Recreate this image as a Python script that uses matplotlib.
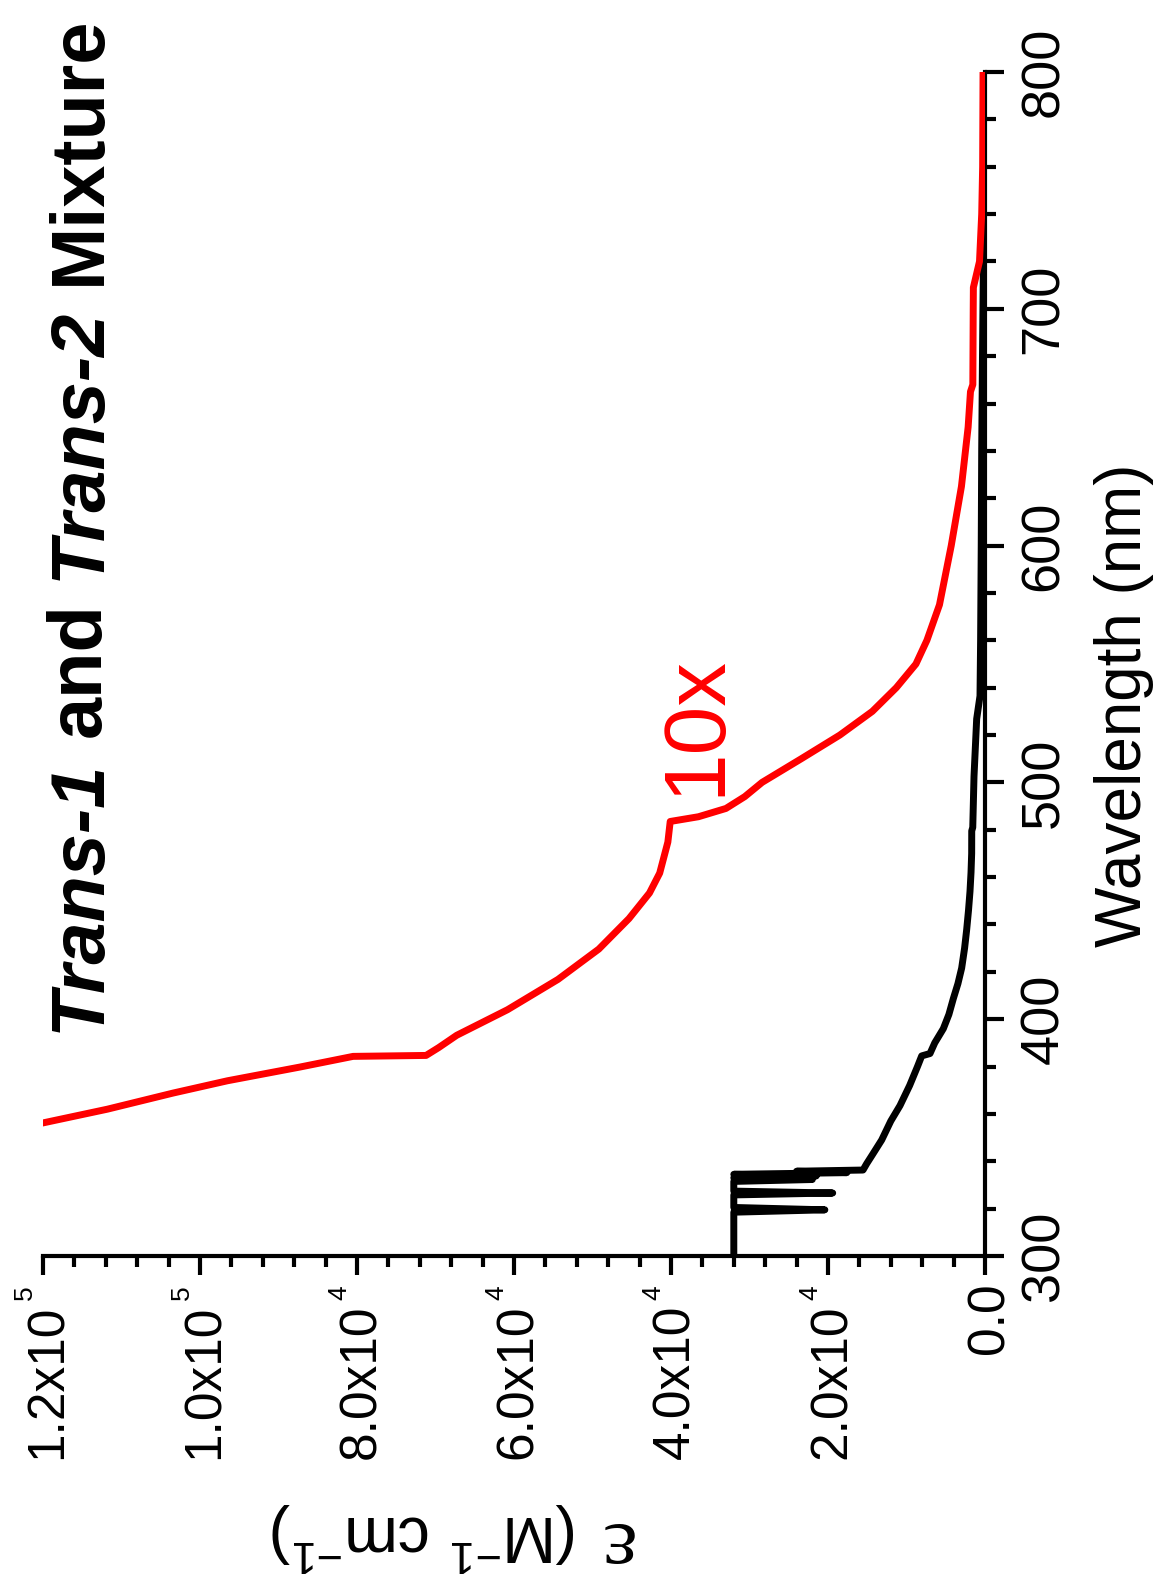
import matplotlib
matplotlib.use("Agg")
import matplotlib.pyplot as plt
import matplotlib.transforms as mtransforms
from matplotlib.ticker import FixedLocator, MultipleLocator, NullFormatter

plt.rcParams["font.family"] = ["Liberation Sans", "DejaVu Sans"]
plt.rcParams["mathtext.fontset"] = "custom"
plt.rcParams["mathtext.rm"] = "Liberation Sans"

# ---- spectra: wavelength (nm) and molar absorptivity (M^-1 cm^-1) ----
mix_wl = [300, 318.5, 319.5, 320.5, 325.8, 326.6, 327.4, 331.5, 332.3, 333.0,
          333.8, 334.5, 335.2, 335.8, 336.3, 339, 343, 349, 357, 363.5, 372,
          380, 384.5, 385.5, 390, 396, 402, 408.7, 415, 421.6, 430, 437.8,
          446, 454, 462, 470, 479.5, 481, 502.5, 526.8, 536.5, 560, 600, 641,
          680, 716.8, 735.8, 760, 800]
mix_eps = [32000, 32000, 20400, 32000, 32000, 19400, 32000, 32000, 22000, 32000,
           21500, 32000, 17600, 24000, 15540, 15070, 14300, 13160, 12000, 10830,
           9600, 8600, 8064, 7006, 6400, 5308, 4600, 4034, 3450, 2972, 2600,
           2335, 2100, 1911, 1780, 1699, 1690, 1560, 1401, 1061, 637, 560, 480,
           420, 320, 212, 0, 0, 0]

mix10_wl = [356.2, 362, 368.8, 374, 379.8, 384.3, 384.7, 388, 393.2, 404, 416.8,
            429.6, 442.5, 453.3, 461.7, 474.8, 483.5, 485.5, 489, 494, 500, 510,
            520, 530, 540, 550, 560, 575, 600, 625, 650, 665, 668, 700, 709,
            720, 740, 760, 800]
mix10_eps = [120000, 111800, 103440, 96500, 87260, 80500, 71200, 69600, 67300,
             60830, 54400, 49200, 45350, 42740, 41440, 40400, 40100, 36500,
             33000, 30600, 28400, 23400, 18490, 14350, 11300, 8800, 7400, 5800,
             4300, 3000, 2150, 1850, 1550, 1500, 1480, 700, 420, 300, 250]

eps_ticks = [0, 2.0e4, 4.0e4, 6.0e4, 8.0e4, 1.0e5, 1.2e5]
eps_mant = ["0.0", "2.0x10", "4.0x10", "6.0x10", "8.0x10", "1.0x10", "1.2x10"]
eps_exp = ["", "4", "4", "4", "4", "5", "5"]
wl_ticks = [300, 400, 500, 600, 700, 800]

title_parts = [("Trans-1", "italic"), ("and", "normal"),
               ("Trans-2", "italic"), ("Mixture", "normal")]

W, H = 1161, 1591
fig = plt.figure(figsize=(W / 100, H / 100), dpi=100)
ax = fig.add_axes([43 / W, 1 - 1256 / H, (985 - 43) / W, (1256 - 72) / H])

ax.plot(mix_eps, mix_wl, color="black", lw=5.0, solid_joinstyle="round", zorder=3)
ax.plot(mix10_eps, mix10_wl, color="#ff0000", lw=5.0, solid_joinstyle="round", zorder=4)

ax.set_xlim(1.2e5, 0)
ax.set_ylim(300, 800)

for side in ("top", "left"):
    ax.spines[side].set_visible(False)
for side in ("bottom", "right"):
    ax.spines[side].set_linewidth(3)
    ax.spines[side].set_capstyle("projecting")

ax.xaxis.set_major_locator(FixedLocator(eps_ticks))
ax.xaxis.set_minor_locator(MultipleLocator(4000))
ax.xaxis.set_major_formatter(NullFormatter())
ax.yaxis.set_major_locator(FixedLocator(wl_ticks))
ax.yaxis.set_minor_locator(MultipleLocator(20))
ax.yaxis.tick_right()
ax.tick_params(which="major", direction="out", length=13.5, width=3)
ax.tick_params(which="minor", direction="out", length=8, width=3)
ax.tick_params(axis="y", which="major", labelsize=39, pad=11, labelrotation=90)
ax.set_yticks(wl_ticks, labels=[str(v) for v in wl_ticks])
plt.setp(ax.get_yticklabels(), va="center", ha="left")

# rotated epsilon tick labels with small exponents
xt = ax.get_xaxis_transform()
for v, m, e in zip(eps_ticks, eps_mant, eps_exp):
    down = 19 if not e else 35
    off = mtransforms.ScaledTranslation(3.5 / 72, -down / 72, fig.dpi_scale_trans)
    ax.text(v, 0, m, transform=xt + off, rotation=90, ha="center", va="top",
            fontsize=37, clip_on=False)
    if e:
        off2 = mtransforms.ScaledTranslation(-13 / 72, -21 / 72, fig.dpi_scale_trans)
        ax.text(v, 0, e, transform=xt + off2, rotation=90, ha="center", va="top",
                fontsize=19, clip_on=False)

fig.text(1124 / W, 1 - 705 / H, "Wavelength (nm)", rotation=90, fontsize=46,
         ha="center", va="center")
# epsilon axis title, upside down: serif symbol plus units
fig.text(614 / W, 1 - 1543 / H, "ε", family=["Liberation Serif", "DejaVu Serif"],
         rotation=180, fontsize=60, ha="center", va="center")
fig.text(425 / W, 1 - 1537 / H, r"(M$^{\mathregular{-1}}$ cm$^{\mathregular{-1}}$)",
         rotation=180, fontsize=46.5, ha="center", va="center")
fig.text(697 / W, 1 - 726 / H, "10x", rotation=90, fontsize=63, color="#ff0000",
         ha="center", va="center")

# title set word by word, running upward along the left edge
renderer = fig.canvas.get_renderer()
title_fs = 54.5
gap = 0.30 * title_fs / 72 * 100 / H
ty = 1 - 1032 / H
for txt, style in title_parts:
    t = fig.text(116 / W, ty, txt, rotation=90, ha="right", va="bottom",
                 fontsize=title_fs, fontweight="bold", fontstyle=style)
    bb = t.get_window_extent(renderer)
    ty = fig.transFigure.inverted().transform((0, bb.y1))[1] + gap

fig.savefig("out.png", dpi=100)
